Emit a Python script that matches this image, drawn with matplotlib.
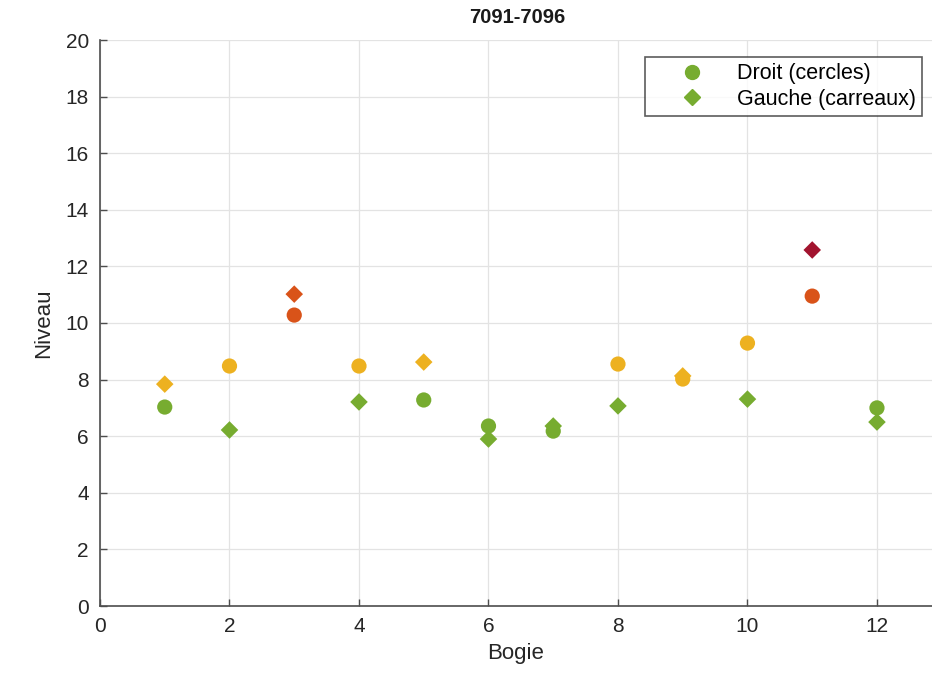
import matplotlib
matplotlib.use("Agg")
import matplotlib.pyplot as plt
from matplotlib.lines import Line2D

plt.rcParams['font.family'] = ['Liberation Sans', 'DejaVu Sans']

bogie = [1, 2, 3, 4, 5, 6, 7, 8, 9, 10, 11, 12]
droit = [7.03, 8.48, 10.28, 8.48, 7.28, 6.36, 6.18, 8.55, 8.02, 9.29, 10.95, 7.0]
gauche = [7.84, 6.22, 11.02, 7.21, 8.62, 5.9, 6.36, 7.07, 8.13, 7.31, 12.58, 6.5]

thresholds = [7.5, 10, 12]
level_colors = ['#77AC30', '#EDB120', '#D95319', '#A2142F']


def color_for(v):
    for t, c in zip(thresholds, level_colors):
        if v < t:
            return c
    return level_colors[-1]


fig = plt.figure(figsize=(9.32, 6.75), dpi=100)
ax = fig.add_axes([100 / 932, 69 / 675, 1 - 100 / 932, (606 - 40) / 675])

ax.scatter(bogie, droit, s=120, marker='o', c=[color_for(v) for v in droit],
           edgecolors='none', zorder=3)
ax.scatter(bogie, gauche, s=80, marker='D', c=[color_for(v) for v in gauche],
           edgecolors='none', zorder=3)

ax.set_xlim(0, 12.85)
ax.set_ylim(0, 20)
ax.set_xticks(range(0, 13, 2))
ax.set_yticks(range(0, 21, 2))
ax.grid(True, color='#e3e3e3', linewidth=0.9)
ax.set_axisbelow(True)
for s in ['top', 'right']:
    ax.spines[s].set_visible(False)
for s in ['left', 'bottom']:
    ax.spines[s].set_color('#4d4d4d')
    ax.spines[s].set_linewidth(1.2)
ax.tick_params(direction='in', length=5, width=1, colors='#4d4d4d',
               labelsize=15, labelcolor='#262626', pad=8)

ax.set_xlabel('Bogie', fontsize=16, color='#262626', labelpad=5)
ax.set_ylabel('Niveau', fontsize=16, color='#262626', labelpad=8)
fig.text(0.555, 0.974, '7091-7096', ha='center', va='center', fontsize=14.5,
         fontweight='bold', color='#1a1a1a')

handles = [
    Line2D([], [], marker='o', linestyle='none', color='#77AC30', markersize=10),
    Line2D([], [], marker='D', linestyle='none', color='#77AC30', markersize=8),
]
leg = ax.legend(handles, ['Droit (cercles)', 'Gauche (carreaux)'],
                loc='upper right', fontsize=15.5, frameon=True, fancybox=False,
                edgecolor='#333333', borderpad=0.3, handletextpad=0.25,
                labelspacing=0.2, handlelength=3.68, borderaxespad=0)
leg.get_frame().set_linewidth(1.2)
leg.set_bbox_to_anchor(((922 - 100) / 832, (606 - 57) / 566), transform=ax.transAxes)

fig.savefig('out.png', dpi=100)
